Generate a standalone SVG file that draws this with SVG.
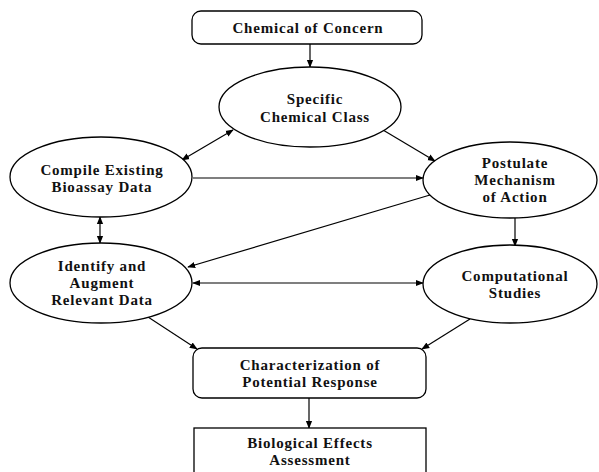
<svg xmlns="http://www.w3.org/2000/svg" width="599" height="472" viewBox="0 0 599 472">
<style>
.n{fill:#fff;stroke:#000;stroke-width:1.3}
.t{font-family:"Liberation Serif","Times New Roman",serif;font-size:15px;font-weight:bold;letter-spacing:0.8px;text-anchor:middle;fill:#111}
.c{stroke:#000;stroke-width:1.2;fill:none}
</style>
<defs>
<marker id="a" viewBox="0 0 10 10" refX="9" refY="5" markerWidth="8" markerHeight="8" orient="auto-start-reverse" markerUnits="userSpaceOnUse">
<path d="M0,1 L10,5 L0,9 z" fill="#000"/>
</marker>
</defs>
<rect width="599" height="472" fill="#fff"/>
<g id="connectors">
<line class="c" x1="310" y1="44" x2="310" y2="67" marker-end="url(#a)"/>
<line class="c" x1="182" y1="160" x2="233" y2="130" marker-start="url(#a)" marker-end="url(#a)"/>
<line class="c" x1="383" y1="130" x2="435" y2="161" marker-end="url(#a)"/>
<line class="c" x1="193" y1="178" x2="423" y2="178" marker-end="url(#a)"/>
<line class="c" x1="430" y1="195" x2="188" y2="267" marker-end="url(#a)"/>
<line class="c" x1="100" y1="217" x2="100" y2="243" marker-start="url(#a)" marker-end="url(#a)"/>
<line class="c" x1="193" y1="283" x2="423" y2="283" marker-start="url(#a)" marker-end="url(#a)"/>
<line class="c" x1="515" y1="218" x2="515" y2="246" marker-end="url(#a)"/>
<line class="c" x1="148" y1="317" x2="197" y2="349" marker-end="url(#a)"/>
<line class="c" x1="470" y1="319" x2="422" y2="349" marker-end="url(#a)"/>
<line class="c" x1="309" y1="398" x2="309" y2="428" marker-end="url(#a)"/>
</g>
<g id="chemical-of-concern">
<rect class="n" x="192" y="11" width="230" height="33" rx="9"/>
<text class="t" x="308" y="33">Chemical of Concern</text>
</g>
<g id="specific-chemical-class">
<ellipse class="n" cx="310" cy="107" rx="91" ry="40"/>
<text class="t" x="315" y="104">Specific</text>
<text class="t" x="315" y="122">Chemical Class</text>
</g>
<g id="compile-existing">
<ellipse class="n" cx="101" cy="177" rx="91" ry="40"/>
<text class="t" x="102" y="175">Compile Existing</text>
<text class="t" x="102" y="192">Bioassay Data</text>
</g>
<g id="postulate-mechanism">
<ellipse class="n" cx="510" cy="180" rx="87" ry="38"/>
<text class="t" x="515" y="168">Postulate</text>
<text class="t" x="515" y="185">Mechanism</text>
<text class="t" x="515" y="202">of Action</text>
</g>
<g id="identify-augment">
<ellipse class="n" cx="101" cy="283" rx="91" ry="40"/>
<text class="t" x="102" y="271">Identify and</text>
<text class="t" x="102" y="288">Augment</text>
<text class="t" x="102" y="305">Relevant Data</text>
</g>
<g id="computational-studies">
<ellipse class="n" cx="510" cy="284" rx="87" ry="39"/>
<text class="t" x="515" y="281">Computational</text>
<text class="t" x="515" y="298">Studies</text>
</g>
<g id="characterization">
<rect class="n" x="193" y="348" width="233" height="50" rx="9"/>
<text class="t" x="310" y="370">Characterization of</text>
<text class="t" x="310" y="387">Potential Response</text>
</g>
<g id="biological-effects">
<rect class="n" x="194" y="428" width="232" height="60"/>
<text class="t" x="310" y="448">Biological Effects</text>
<text class="t" x="310" y="465">Assessment</text>
</g>
</svg>
